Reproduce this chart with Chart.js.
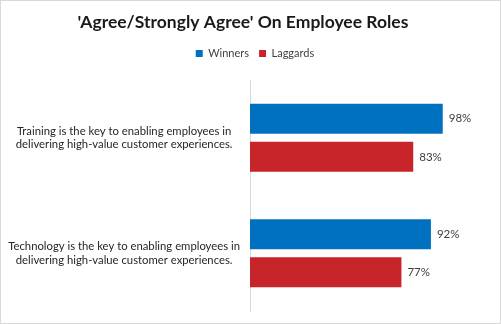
<!DOCTYPE html>
<html>
<head>
<meta charset="utf-8">
<script src="https://cdn.jsdelivr.net/npm/chart.js@4"></script>
<style>
  html, body { margin: 0; padding: 0; background: #fff; }
  #wrap { width: 501px; height: 324px; }
</style>
</head>
<body>
<div id="wrap"><canvas id="rolesChart" width="501" height="324"></canvas></div>
<script>
// Survey statements and the share of each group agreeing
const statements = [
    ['Training is the key to enabling employees in', 'delivering high-value customer experiences.'],
    ['Technology is the key to enabling employees in', 'delivering high-value customer experiences.']
];
const winners = [98, 92];
const laggards = [83, 77];

const FONT = 'Lato, "Liberation Sans", sans-serif';

// Light frame around the whole chart
const framePlugin = {
    id: 'frame',
    afterDraw(chart) {
        const ctx = chart.ctx;
        ctx.save();
        ctx.strokeStyle = '#d9d9d9';
        ctx.lineWidth = 1;
        ctx.strokeRect(0.5, 0.5, chart.width - 1, chart.height - 1);
        ctx.restore();
    }
};

// Percent labels just past the end of each bar
const valueLabels = {
    id: 'valueLabels',
    afterDatasetsDraw(chart) {
        const ctx = chart.ctx;
        ctx.save();
        ctx.font = '11.5px ' + FONT;
        ctx.fillStyle = '#404040';
        ctx.textAlign = 'left';
        ctx.textBaseline = 'middle';
        chart.data.datasets.forEach((ds, i) => {
            chart.getDatasetMeta(i).data.forEach((bar, j) => {
                ctx.fillText(ds.data[j] + '%', bar.x + 6, bar.y);
            });
        });
        ctx.restore();
    }
};

// Extra room under the legend, and nudge it a little to the right
const legendSpacer = {
    id: 'legendSpacer',
    beforeInit(chart) {
        const origFit = chart.legend.fit;
        chart.legend.fit = function() {
            origFit.bind(chart.legend)();
            this.height += 11;
        };
    },
    afterLayout(chart) {
        chart.legend.left += 12;
        chart.legend.right += 12;
    }
};

new Chart(document.getElementById('rolesChart'), {
    type: 'bar',
    data: {
        labels: statements,
        datasets: [
            {
                label: 'Winners',
                data: winners,
                backgroundColor: '#0070C0',
                barPercentage: 0.79,
                categoryPercentage: 0.66
            },
            {
                label: 'Laggards',
                data: laggards,
                backgroundColor: '#C8252A',
                barPercentage: 0.79,
                categoryPercentage: 0.66
            }
        ]
    },
    options: {
        indexAxis: 'y',
        responsive: false,
        animation: false,
        layout: {
            padding: { top: 0, right: 15, bottom: 13, left: 0 }
        },
        scales: {
            x: {
                display: false,
                min: 0,
                max: 120
            },
            y: {
                grid: { display: false },
                border: { display: true, color: '#d9d9d9', width: 1 },
                afterFit(scale) {
                    scale.width = 250;
                    scale.paddingTop = 0;
                    scale.paddingBottom = 0;
                },
                ticks: {
                    crossAlign: 'center',
                    padding: 2,
                    color: '#262626',
                    font: { family: FONT, size: 11.3 }
                }
            }
        },
        plugins: {
            title: {
                display: true,
                text: "'Agree/Strongly Agree' On Employee Roles",
                color: '#1a1a1a',
                font: { family: FONT, size: 17.5, weight: 'bold' },
                padding: { top: 12, bottom: 5 }
            },
            legend: {
                position: 'top',
                labels: {
                    boxWidth: 7,
                    boxHeight: 7,
                    padding: 10,
                    color: '#404040',
                    font: { family: FONT, size: 11 }
                }
            },
            tooltip: { enabled: false }
        }
    },
    plugins: [framePlugin, valueLabels, legendSpacer]
});
</script>
</body>
</html>
